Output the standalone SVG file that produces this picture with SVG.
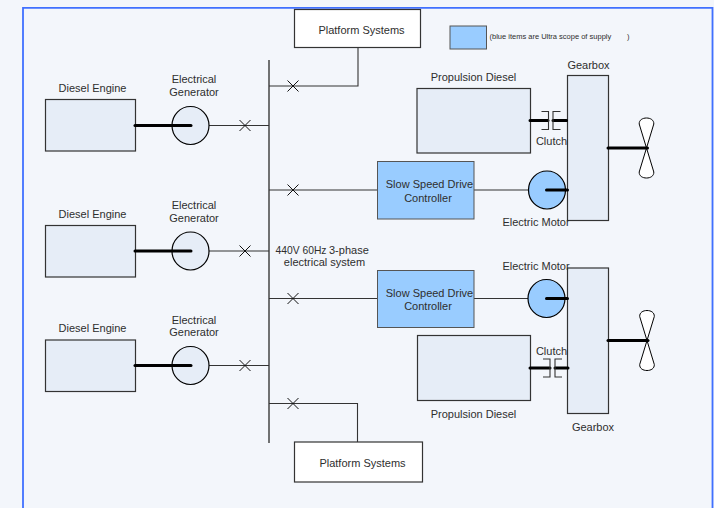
<svg xmlns="http://www.w3.org/2000/svg" width="714" height="508" viewBox="0 0 714 508">
<style>
text{font-family:"Liberation Sans",Arial,sans-serif;font-size:11px;fill:#2e2e2e}
.m{text-anchor:middle}
.box{fill:#e6edf7;stroke:#333;stroke-width:1.2}
.white{fill:#fff;stroke:#333;stroke-width:1.2}
.blue{fill:#99ccff;stroke:#555;stroke-width:1}
.circ{stroke:#000;stroke-width:1.2}
.thin{fill:none;stroke:#333;stroke-width:1.1}
.thick{fill:none;stroke:#000;stroke-width:3;stroke-linecap:round}
.x{fill:none;stroke:#111;stroke-width:1}
.prop{fill:#fff;stroke:#000;stroke-width:1}
</style>
<defs>
<path id="xm" class="x" d="M-5.500-5.500L5.500 5.500M-5.500 5.500L5.500-5.500"/>
<path id="pr" class="prop" d="M0 0L-7.300-24C-7.500-28-4-30 0-30C4-30 7.500-28 7.300-24ZM0 0L-7.300 24C-7.500 28-4 30 0 30C4 30 7.500 28 7.300 24Z"/>
</defs>
<rect width="714" height="508" fill="#f3f6fb"/>
<path d="M23 520V7.800H712.500V520" fill="none" stroke="#4070ff" stroke-width="1.800"/>
<g id="connectors">
<path class="thin" style="stroke-width:1.500;stroke:#444" d="M269 60V443"/>
<path class="thin" d="M269 86H358V47M209 125.500H269M269 190H377.500M209 251H269M269 298.500H377.500M209 365.500H269M269 403.500H357.500V442M474 190H529M474 298.500H528"/>
<use href="#xm" x="293" y="86"/><use href="#xm" x="245" y="125.500"/><use href="#xm" x="293" y="190"/><use href="#xm" x="245" y="251"/><use href="#xm" x="293" y="298.500"/><use href="#xm" x="245" y="365.500"/><use href="#xm" x="293" y="403.500"/>
</g>
<g id="engine1"><rect class="box" x="45.500" y="99.500" width="90" height="51.500"/><text class="m" x="92.500" y="92">Diesel Engine</text></g>
<g id="engine2"><rect class="box" x="45.500" y="225.500" width="90" height="51.500"/><text class="m" x="92.500" y="218">Diesel Engine</text></g>
<g id="engine3"><rect class="box" x="45.500" y="340" width="90" height="51.500"/><text class="m" x="92.500" y="332">Diesel Engine</text></g>
<g id="generator1"><ellipse class="box circ" cx="190.500" cy="125.500" rx="18.500" ry="19"/><path class="thick" d="M135 125.500H191"/><text class="m" x="194" y="83">Electrical</text><text class="m" x="194" y="96">Generator</text></g>
<g id="generator2"><ellipse class="box circ" cx="190.500" cy="251" rx="18.500" ry="19"/><path class="thick" d="M135 251H191"/><text class="m" x="194" y="209">Electrical</text><text class="m" x="194" y="222">Generator</text></g>
<g id="generator3"><ellipse class="box circ" cx="190.500" cy="365.500" rx="18.500" ry="19"/><path class="thick" d="M135 365.500H191"/><text class="m" x="194" y="324">Electrical</text><text class="m" x="194" y="336">Generator</text></g>
<g id="bus-label"><text x="275.500" y="254" textLength="51" lengthAdjust="spacingAndGlyphs">440V 60Hz</text><text x="329" y="253.500">3-phase</text><text class="m" x="324.500" y="266">electrical system</text></g>
<g id="platform1"><rect class="white" x="294.500" y="9.500" width="126" height="38"/><text class="m" x="361.500" y="34">Platform Systems</text></g>
<g id="platform2"><rect class="white" x="294.500" y="442" width="128" height="40"/><text class="m" x="362.500" y="466.500">Platform Systems</text></g>
<g id="legend"><rect class="blue" x="450" y="26" width="36.500" height="23"/><text x="489.500" y="39" style="font-size:7.500px">(blue items are Ultra scope of supply</text><text x="627" y="39" style="font-size:7.500px">)</text></g>
<g id="drive1"><rect class="blue" x="377.500" y="161.500" width="96.500" height="57.500"/><text class="m" x="429.500" y="188">Slow Speed Drive</text><text class="m" x="428" y="202">Controller</text></g>
<g id="drive2"><rect class="blue" x="377.500" y="270.500" width="96.500" height="57"/><text class="m" x="429.500" y="297">Slow Speed Drive</text><text class="m" x="428" y="310">Controller</text></g>
<g id="diesel1"><rect class="box" x="417" y="88.500" width="113.500" height="64.500"/><text class="m" x="473.500" y="81">Propulsion Diesel</text></g>
<g id="diesel2"><rect class="box" x="417.500" y="335.500" width="113" height="65"/><text class="m" x="473.500" y="418">Propulsion Diesel</text></g>
<g id="gearbox1"><rect class="box" x="567.500" y="75.500" width="41" height="145"/><text class="m" x="588.500" y="69">Gearbox</text></g>
<g id="gearbox2"><rect class="box" x="567.500" y="268" width="41" height="145.500"/><text class="m" x="593" y="431">Gearbox</text></g>
<g id="clutch1"><path class="thick" d="M530 120.500H548M553 120.500H566.500"/><path class="thin" d="M541.500 111.500H548.500V129.500H541.500M560.500 111.500H553V129.500H560.500"/><text class="m" x="551.500" y="145">Clutch</text></g>
<g id="clutch2"><path class="thick" d="M530 368H550M555 368H568"/><path class="thin" d="M543 359H550V377H543M562 359H555V377H562"/><text class="m" x="551.500" y="355">Clutch</text></g>
<g id="motor1"><ellipse class="blue circ" cx="547" cy="190" rx="18.500" ry="19"/><path class="thick" d="M546.500 190H567.500"/><text class="m" x="536" y="225.500">Electric Motor</text></g>
<g id="motor2"><ellipse class="blue circ" cx="546.500" cy="298.500" rx="18.500" ry="19"/><path class="thick" d="M546.500 298.500H567.500"/><text class="m" x="536" y="270">Electric Motor</text></g>
<g id="propeller1"><use href="#pr" x="646.500" y="148"/><path class="thick" d="M608 148H647.500"/></g>
<g id="propeller2"><use href="#pr" x="647" y="340.500"/><path class="thick" d="M608 340.500H648"/></g>
</svg>
